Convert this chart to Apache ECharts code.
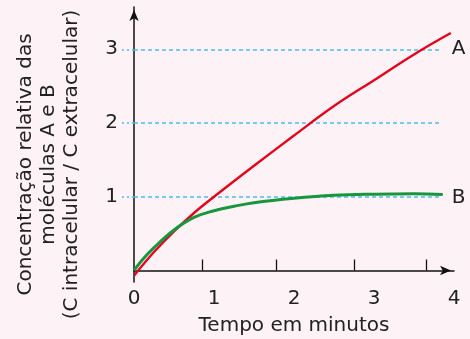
<!DOCTYPE html>
<html>
<head>
<meta charset="utf-8">
<script src="https://cdn.jsdelivr.net/npm/echarts@6/dist/echarts.min.js"></script>
<style>
html,body{margin:0;padding:0;background:#fdf2f5;}
#c{width:470px;height:339px;}
</style>
</head>
<body>
<div id="c"></div>
<script>
// Data
const timeA = [0, 0.25, 0.5, 0.75, 1.0, 1.5, 2.0, 2.5, 3.0, 3.5, 3.96];
const valuesA = [-0.07, 0.25, 0.53, 0.78, 1.0, 1.42, 1.83, 2.23, 2.58, 2.93, 3.22];
const timeB = [0, 0.1, 0.25, 0.5, 0.75, 1.0, 1.25, 1.5, 2.0, 2.5, 3.0, 3.5, 3.86];
const valuesB = [0.0, 0.14, 0.31, 0.55, 0.72, 0.81, 0.87, 0.92, 0.98, 1.02, 1.035, 1.04, 1.03];
const xLabels = [0, 1, 2, 3, 4];
const xTicks = [0.85, 1.78, 2.75, 3.65];
const yLabels = [1, 2, 3];
const refLevels = [1, 2, 3];
const refLineEnd = 3.825;
const seriesNames = ['A', 'B'];

const font = 'DejaVu Sans';
const textColor = '#222';
const refColor = '#4fbde9';
const fs = 20;
const pairs = (xs, ys) => xs.map((x, i) => [x, ys[i]]);

const chart = echarts.init(document.getElementById('c'));
chart.setOption({
  backgroundColor: '#fdf2f5',
  animation: false,
  grid: {left: 134, right: 16, top: 7, bottom: 57, containLabel: false, outerBoundsMode: 'none'},
  xAxis: {
    type: 'value', min: 0, max: 4,
    name: 'Tempo em minutos', nameLocation: 'middle', nameGap: 34,
    nameTextStyle: {fontFamily: font, fontSize: fs, color: textColor},
    axisLine: {show: true, lineStyle: {color: '#111', width: 1.5}, symbol: ['none', 'arrow'], symbolSize: [7, 11], symbolOffset: [0, -3]},
    axisTick: {show: true, inside: true, length: 11, customValues: xTicks, lineStyle: {color: '#111', width: 1.3}},
    axisLabel: {customValues: xLabels, fontFamily: font, fontSize: fs, color: textColor, margin: 7},
    splitLine: {show: false}
  },
  yAxis: {
    type: 'value', min: -0.156, max: 3.573,
    name: 'Concentração relativa das\nmoléculas A e B\n(C intracelular / C extracelular)',
    nameLocation: 'middle', nameGap: 51,
    nameTextStyle: {fontFamily: font, fontSize: fs, color: textColor, lineHeight: 23, padding: [0, 40, 0, 0]},
    axisLine: {show: true, onZero: false, lineStyle: {color: '#111', width: 1.5}, symbol: ['none', 'arrow'], symbolSize: [7, 11], symbolOffset: [0, -3]},
    axisTick: {show: true, customValues: refLevels, length: 14, lineStyle: {color: refColor, type: [2, 3], width: 1.5}},
    axisLabel: {customValues: yLabels, fontFamily: font, fontSize: fs, color: textColor, margin: 16},
    splitLine: {show: false}
  },
  series: [
    {
      type: 'line', name: seriesNames[0], data: pairs(timeA, valuesA), smooth: 0.4,
      showSymbol: false, clip: false, z: 3,
      lineStyle: {color: '#e3051b', width: 2.4},
      endLabel: {show: true, formatter: seriesNames[0], fontFamily: font, fontSize: fs, color: textColor, distance: 1, offset: [0, 16]},
      markLine: {
        symbol: 'none', silent: true, label: {show: false}, z: 1,
        lineStyle: {color: refColor, type: [4, 3], width: 1.5},
        data: refLevels.map(v => [{coord: [0, v]}, {coord: [refLineEnd, v]}])
      }
    },
    {
      type: 'line', name: seriesNames[1], data: pairs(timeB, valuesB), smooth: 0.4,
      showSymbol: false, clip: false, z: 3,
      lineStyle: {color: '#16963f', width: 3},
      endLabel: {show: true, formatter: seriesNames[1], fontFamily: font, fontSize: fs, color: textColor, distance: 9, offset: [0, 3]}
    }
  ]
});
</script>
</body>
</html>
